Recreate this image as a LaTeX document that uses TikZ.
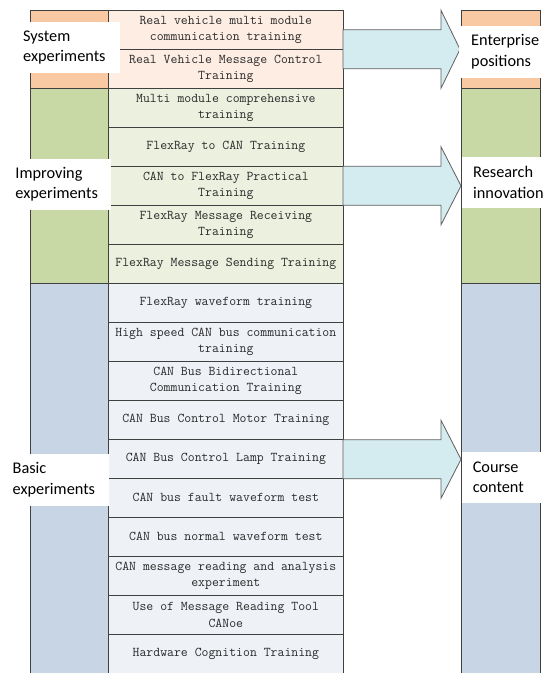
\documentclass[tikz,border=0pt]{standalone}
\usepackage{fontspec}
\setmainfont{Liberation Serif}
\newfontfamily\rowfont{Latin Modern Mono}
\newfontfamily\lblfont{Carlito}
\definecolor{linec}{HTML}{404040}
\definecolor{txtc}{HTML}{2A2A2A}
\definecolor{sysdark}{HTML}{F9C9A4}
\definecolor{syslight}{HTML}{FDEDE3}
\definecolor{impdark}{HTML}{C8D9A6}
\definecolor{implight}{HTML}{EBF0DF}
\definecolor{basdark}{HTML}{C7D5E5}
\definecolor{baslight}{HTML}{EEF1F6}
\definecolor{arrfill}{HTML}{D4EBF0}
\definecolor{arrline}{HTML}{606060}
\begin{document}
\begin{tikzpicture}[x=1pt,y=-1pt,
  rowbox/.style={draw=linec, line width=1pt, minimum width=234.3pt, minimum height=39pt,
    inner sep=0pt, align=center, text=txtc, font=\rowfont\fontsize{13.4}{16.3}\selectfont},
  band/.style={draw=linec, line width=1pt, anchor=north west, inner sep=0pt, minimum width=78.7pt},
  lbl/.style={fill=white, anchor=north west, inner ysep=0pt, align=left,
    font=\lblfont\fontsize{16.3}{20.3}\selectfont, text=black},
  blockarrow/.style={draw=arrline, fill=arrfill, line width=0.8pt, line join=miter}
]
\useasboundingbox (0,0) rectangle (545,673);
\clip (0,0) rectangle (545,673);
\fill[white] (0,0) rectangle (545,673);

% left column bands
\node[band, fill=sysdark, minimum height=78pt] (lsys) at (30,10.3) {};
\node[band, fill=impdark, minimum height=195pt] (limp) at (30,88.3) {};
\node[band, fill=basdark, minimum height=400pt] (lbas) at (30,283.3) {};
% right column bands
\node[band, fill=sysdark, minimum width=79.3pt, minimum height=78pt] (rsys) at (460.7,10.3) {};
\node[band, fill=impdark, minimum width=79.3pt, minimum height=195pt] (rimp) at (460.7,88.3) {};
\node[band, fill=basdark, minimum width=79.3pt, minimum height=400pt] (rbas) at (460.7,283.3) {};

% middle rows
\node[rowbox, fill=syslight] (r1) at (225.85,29.8) {Real vehicle multi module\\communication training};
\node[rowbox, fill=syslight] (r2) at (225.85,68.8) {Real Vehicle Message Control\\Training};
\node[rowbox, fill=implight] (r3) at (225.85,107.8) {Multi module comprehensive\\training};
\node[rowbox, fill=implight] (r4) at (225.85,146.8) {FlexRay to CAN Training};
\node[rowbox, fill=implight] (r5) at (225.85,185.8) {CAN to FlexRay Practical\\Training};
\node[rowbox, fill=implight] (r6) at (225.85,224.8) {FlexRay Message Receiving\\Training};
\node[rowbox, fill=implight] (r7) at (225.85,263.8) {FlexRay Message Sending Training};
\node[rowbox, fill=baslight] (r8) at (225.85,302.8) {FlexRay waveform training};
\node[rowbox, fill=baslight] (r9) at (225.85,341.8) {High speed CAN bus communication\\training};
\node[rowbox, fill=baslight] (r10) at (225.85,380.8) {CAN Bus Bidirectional\\Communication Training};
\node[rowbox, fill=baslight] (r11) at (225.85,419.8) {CAN Bus Control Motor Training};
\node[rowbox, fill=baslight] (r12) at (225.85,458.8) {CAN Bus Control Lamp Training};
\node[rowbox, fill=baslight] (r13) at (225.85,497.8) {CAN bus fault waveform test};
\node[rowbox, fill=baslight] (r14) at (225.85,536.8) {CAN bus normal waveform test};
\node[rowbox, fill=baslight] (r15) at (225.85,575.8) {CAN message reading and analysis\\experiment};
\node[rowbox, fill=baslight] (r16) at (225.85,614.8) {Use of Message Reading Tool\\CANoe};
\node[rowbox, fill=baslight] (r17) at (225.85,653.8) {Hardware Cognition Training};

% block arrows
\draw[blockarrow] (343,29.8) -- (441,29.8) -- (441,10.3) -- (460,49.3) -- (441,88.3) -- (441,68.8) -- (343,68.8) -- cycle;
\draw[blockarrow] (343,166.3) -- (441,166.3) -- (441,146.8) -- (461,185.8) -- (441,224.8) -- (441,205.3) -- (343,205.3) -- cycle;
\draw[blockarrow] (343,439.8) -- (441,439.8) -- (441,420.3) -- (461,459.3) -- (441,498.3) -- (441,478.8) -- (343,478.8) -- cycle;

% labels
\node[lbl, inner xsep=3pt, text width=94pt, minimum height=51pt] (lsyslbl) at (20,21.7) {System\\experiments};
\node[lbl, inner xsep=3.3pt, text width=92.4pt, minimum height=51.3pt] (limplbl) at (12,158.7) {Improving\\experiments};
\node[lbl, inner xsep=3pt, text width=93.5pt, minimum height=51.6pt] (lbaslbl) at (9.5,453.7) {Basic\\experiments};
\node[lbl, inner xsep=12.7pt, text width=80pt, minimum height=51.3pt] (rsyslbl) at (458.3,26) {Enterprise\\positions};
\node[lbl, inner xsep=11pt, text width=80pt, minimum height=51pt] (rimplbl) at (462,156.7) {Research\\innovation};
\node[lbl, inner xsep=11pt, text width=80pt, minimum height=51.4pt] (rbaslbl) at (461.6,451.3) {Course\\content};
\end{tikzpicture}
\end{document}
